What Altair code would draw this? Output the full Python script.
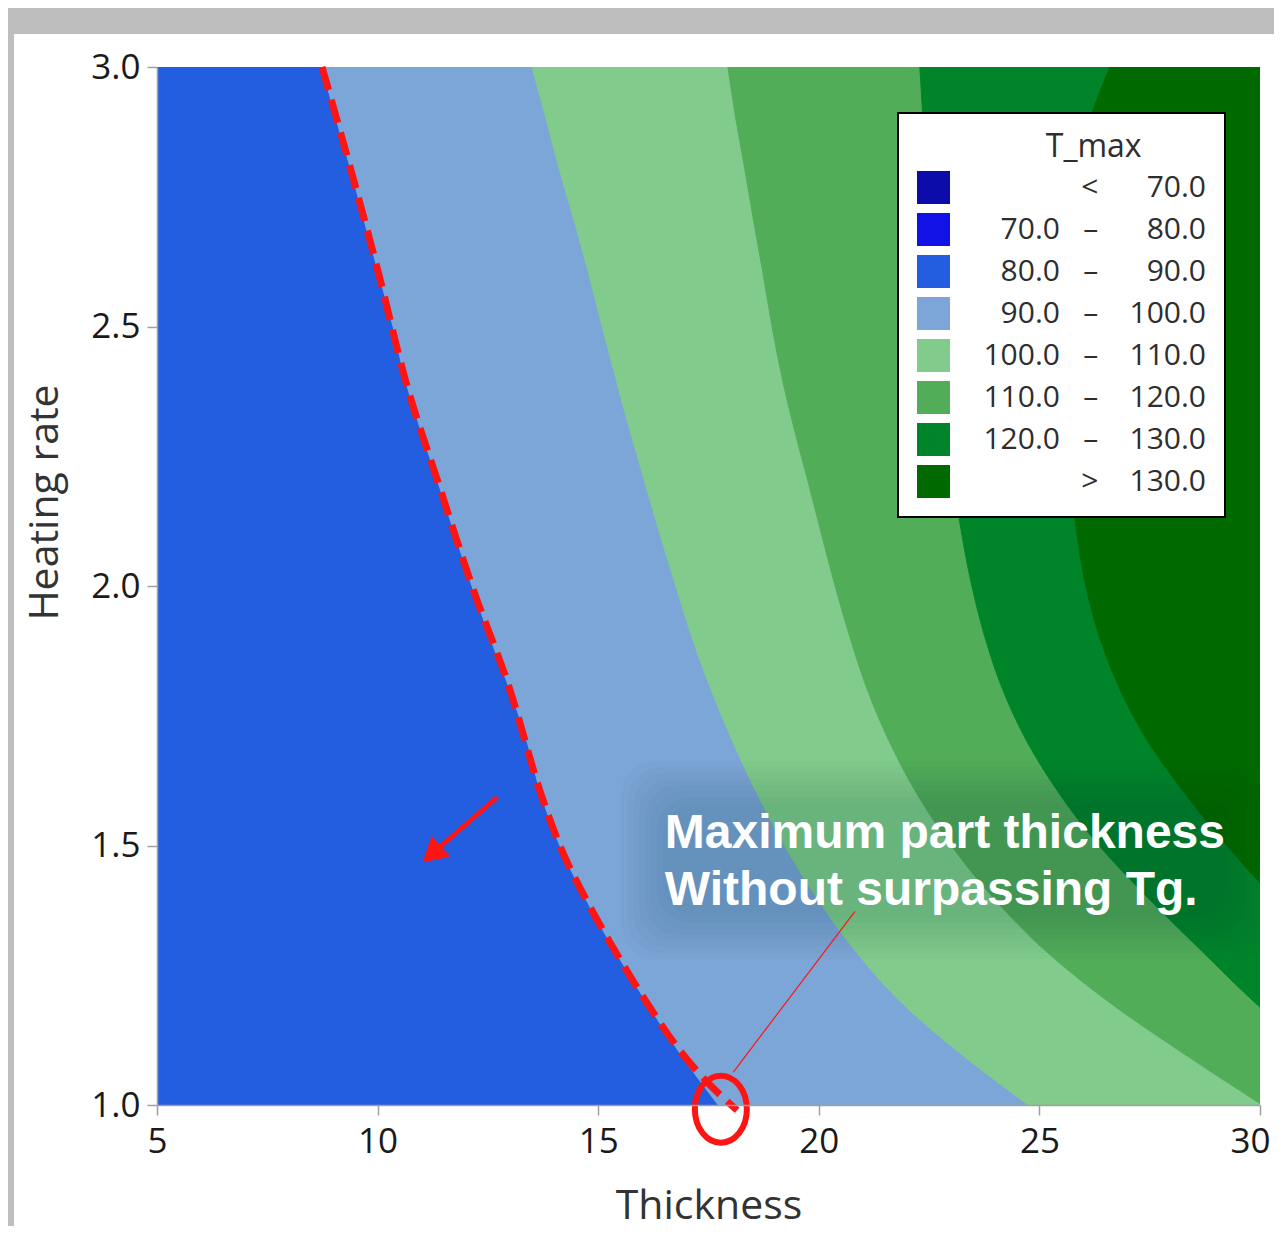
import altair as alt
import pandas as pd

# ---------------- data ----------------
heating_rate = [3.0, 2.9, 2.8, 2.7, 2.6, 2.5, 2.4, 2.3, 2.2, 2.1, 2.0,
                1.9, 1.8, 1.7, 1.6, 1.5, 1.4, 1.3, 1.2, 1.1, 1.0]
# contour edges (Thickness at which T_max crosses a level), one per heating rate;
# values past 30 continue the contour beyond the plotted window (clipped)
edge_90 = [8.74, 9.06, 9.40, 9.71, 10.03, 10.35, 10.62, 10.98, 11.37, 11.75, 12.14,
           12.55, 13.00, 13.39, 13.70, 14.13, 14.70, 15.36, 16.08, 16.85, 17.72]
edge_100 = [13.50, 13.82, 14.13, 14.47, 14.79, 15.09, 15.40, 15.72, 16.06, 16.40, 16.76,
            17.13, 17.56, 18.05, 18.60, 19.22, 19.95, 20.80, 21.84, 23.20, 24.75]
edge_110 = [17.94, 18.12, 18.33, 18.53, 18.74, 18.94, 19.17, 19.45, 19.76, 20.06, 20.37,
            20.71, 21.10, 21.60, 22.22, 23.00, 23.95, 25.10, 26.55, 28.25, 30.05]
edge_120 = [22.29, 22.36, 22.43, 22.52, 22.63, 22.72, 22.81, 22.93, 23.06, 23.24, 23.47,
            23.77, 24.17, 24.72, 25.45, 26.35, 27.45, 28.64, 29.85, 31.2, 32.7]
edge_130 = [26.60, 26.15, 25.87, 25.72, 25.63, 25.58, 25.58, 25.63, 25.72, 25.85, 26.05,
            26.37, 26.83, 27.46, 28.30, 29.25, 30.3, 31.5, 32.8, 34.2, 35.6]
thickness_range = [5, 30]
heating_range = [1.0, 3.0]

band_low = [None, 70.0, 80.0, 90.0, 100.0, 110.0, 120.0, 130.0]
band_high = [70.0, 80.0, 90.0, 100.0, 110.0, 120.0, 130.0, None]
band_colors = ["#0c0caa", "#1212e6", "#235ee0", "#7da6d8",
               "#81cb8c", "#52ad59", "#00842a", "#006a00"]

x_ticks = [5, 10, 15, 20, 25, 30]
y_ticks = [1.0, 1.5, 2.0, 2.5, 3.0]

# hand-drawn dashed "Tg" limit line
tg_thickness = [8.74, 9.40, 10.03, 10.62, 11.37, 12.14, 13.00, 13.70, 14.13, 14.70,
                15.36, 16.08, 16.85, 17.53, 18.15]
tg_rate = [3.0, 2.8, 2.6, 2.4, 2.2, 2.0, 1.8, 1.6, 1.5, 1.4,
           1.3, 1.2, 1.105, 1.039, 0.99]

circle_thickness = [17.78]
circle_rate = [0.992]
leader_thickness = [18.06]
leader_rate = [1.063]
leader_thickness2 = [20.82]
leader_rate2 = [1.373]
arrow_thickness = [12.71]
arrow_rate = [1.593]
arrow_thickness2 = [11.41]
arrow_rate2 = [1.497]
arrow_head_thickness = [11.23]
arrow_head_rate = [1.483]

note_lines = ["Maximum part thickness", "Without surpassing Tg."]
note_thickness = [16.51, 16.51]
note_rate = [1.495, 1.385]

# soft shadow behind the note (nested boxes, outermost first)
shadow_x = [15.51, 15.65, 15.79, 15.92, 16.06, 16.19, 16.33, 16.47]
shadow_x2 = [30.21, 30.07, 29.94, 29.80, 29.66, 29.53, 29.39, 29.25]
shadow_y = [1.281, 1.293, 1.304, 1.316, 1.327, 1.339, 1.351, 1.362]
shadow_y2 = [1.663, 1.651, 1.640, 1.628, 1.617, 1.605, 1.593, 1.582]

# ---------------- build tables ----------------
FS = "\u2007"
NB = "\u00a0"


def num(v):
    s = f"{v:.1f}"
    return FS * (5 - len(s)) + s


labels = []
for lo, hi in zip(band_low, band_high):
    if lo is None:
        labels.append("<" + NB * 4 + num(hi))
    elif hi is None:
        labels.append(">" + NB * 4 + num(lo))
    else:
        labels.append(num(lo) + NB * 3 + "\u2013" + NB * 4 + num(hi))

n = len(heating_rate)
left_edges = [[thickness_range[0]] * n, edge_90, edge_100, edge_110, edge_120, edge_130]
right_edges = [edge_90, edge_100, edge_110, edge_120, edge_130,
               [max(thickness_range[1], e) for e in edge_130]]
rows = []
for k, (L, R) in enumerate(zip(left_edges, right_edges)):
    for j, r in enumerate(heating_rate):
        rows.append({"band": labels[k + 2], "rate": r, "thickness": L[j], "thickness_end": R[j]})
bands_df = pd.DataFrame(rows)

tg_df = pd.DataFrame({"thickness": tg_thickness, "rate": tg_rate, "i": list(range(len(tg_rate)))})
circle_df = pd.DataFrame({"thickness": circle_thickness, "rate": circle_rate})
leader_df = pd.DataFrame({"thickness": leader_thickness, "rate": leader_rate,
                          "thickness2": leader_thickness2, "rate2": leader_rate2})
arrow_df = pd.DataFrame({"thickness": arrow_thickness, "rate": arrow_rate,
                         "thickness2": arrow_thickness2, "rate2": arrow_rate2})
head_df = pd.DataFrame({"thickness": arrow_head_thickness, "rate": arrow_head_rate})
note_df = pd.DataFrame({"thickness": note_thickness, "rate": note_rate, "note": note_lines})
shadow_df = pd.DataFrame({"thickness": shadow_x, "thickness2": shadow_x2,
                          "rate": shadow_y, "rate2": shadow_y2})
panel_df = pd.DataFrame({"a": [0]})

# ---------------- encodings ----------------
x_scale = alt.Scale(domain=thickness_range, nice=False, zero=False)
y_scale = alt.Scale(domain=heating_range, nice=False, zero=False)
x_axis = alt.Axis(values=x_ticks, title="Thickness", labelFlush=True, labelFlushOffset=10,
                  labelPadding=9, titleY=113, titleBaseline="alphabetic", zindex=1)
y_axis = alt.Axis(values=y_ticks, format=".1f", title="Heating rate", labelPadding=7,
                  titleX=-100, titleY=435, titleAngle=270, titleBaseline="alphabetic",
                  titleAlign="center", zindex=1)
X = alt.X("thickness:Q", scale=x_scale, axis=x_axis)
Y = alt.Y("rate:Q", scale=y_scale, axis=y_axis)

RED = "#ff1414"

panel = alt.Chart(panel_df).mark_rect(color="white").encode(
    x=alt.value(-143), x2=alt.value(1125), y=alt.value(-33), y2=alt.value(1160)
)

areas = alt.Chart(bands_df).mark_area(orient="horizontal", interpolate="monotone",
                                      strokeWidth=1, opacity=1, clip=True).encode(
    y=Y,
    x=X,
    x2="thickness_end:Q",
    color=alt.Color(
        "band:N",
        scale=alt.Scale(domain=labels, range=band_colors),
        legend=alt.Legend(
            title="\u200b" + FS * 3 + "\u2008" + "T_max",
            orient="none", legendX=741, legendY=46,
            symbolType="square", symbolSize=1089, symbolStrokeWidth=0, symbolOpacity=1,
            labelAlign="right", labelOffset=256, labelFontSize=30, labelFont="Open Sans",
            labelColor="#2e2e2e", labelLimit=600,
            titleFontSize=32, titleFont="Open Sans", titleFontWeight="normal",
            titleColor="#2e2e2e", titleAnchor="middle", titlePadding=7,
            rowPadding=9, padding=19, fillColor="white", strokeColor="black",
        ),
    ),
    stroke=alt.Stroke("band:N", scale=alt.Scale(domain=labels, range=band_colors), legend=None),
)

shadow = alt.Chart(shadow_df).mark_rect(color="#0a1a40", opacity=0.02, cornerRadius=34,
                                        clip=True).encode(
    x=X, y=Y, x2="thickness2:Q", y2="rate2:Q")

tg = alt.Chart(tg_df).mark_line(color=RED, strokeWidth=7, strokeDash=[24, 10],
                                interpolate="monotone", strokeCap="butt").encode(
    x=X, y=Y, order="i:Q")

leader = alt.Chart(leader_df).mark_rule(color=RED, strokeWidth=1.2).encode(
    x=X, y=Y, x2="thickness2:Q", y2="rate2:Q")

ellipse_path = "M -0.776 0 A 0.776 1 0 1 1 0.776 0 A 0.776 1 0 1 1 -0.776 0 Z"
circle = alt.Chart(circle_df).mark_point(shape=ellipse_path, size=4489, filled=False,
                                         stroke=RED, strokeWidth=6, opacity=1).encode(x=X, y=Y)

arrow = alt.Chart(arrow_df).mark_rule(color=RED, strokeWidth=4.5, strokeCap="butt").encode(
    x=X, y=Y, x2="thickness2:Q", y2="rate2:Q")
head = alt.Chart(head_df).mark_point(shape="triangle-up", size=784, angle=228.7, filled=True,
                                     fill=RED, strokeWidth=0, opacity=1).encode(x=X, y=Y)

note = alt.Chart(note_df).mark_text(align="left", baseline="alphabetic", font="Liberation Sans",
                                    fontSize=48, fontWeight="bold", color="white").encode(
    x=X, y=Y, text="note:N")

chart = alt.layer(panel, areas, shadow, tg, leader, circle, arrow, head, note).properties(
    width=1103, height=1038,
    autosize=alt.AutoSizeParams(type="none"),
    padding={"left": 149, "top": 59, "right": 14, "bottom": 121},
    background="#bebebe",
).configure_view(
    stroke="#a0a0a0", strokeWidth=1.5
).configure_axis(
    domainColor="#a0a0a0", domainWidth=1.5, tickColor="#a0a0a0", tickWidth=1.5, tickSize=10,
    labelFont="Open Sans", labelFontSize=35, labelColor="#1a1a1a",
    titleFont="Open Sans", titleFontSize=41, titleFontWeight="normal", titleColor="#333333",
    grid=False,
).configure_legend(strokeWidth=2)

chart.save("out.html", embed_options={"renderer": "svg", "actions": False})
